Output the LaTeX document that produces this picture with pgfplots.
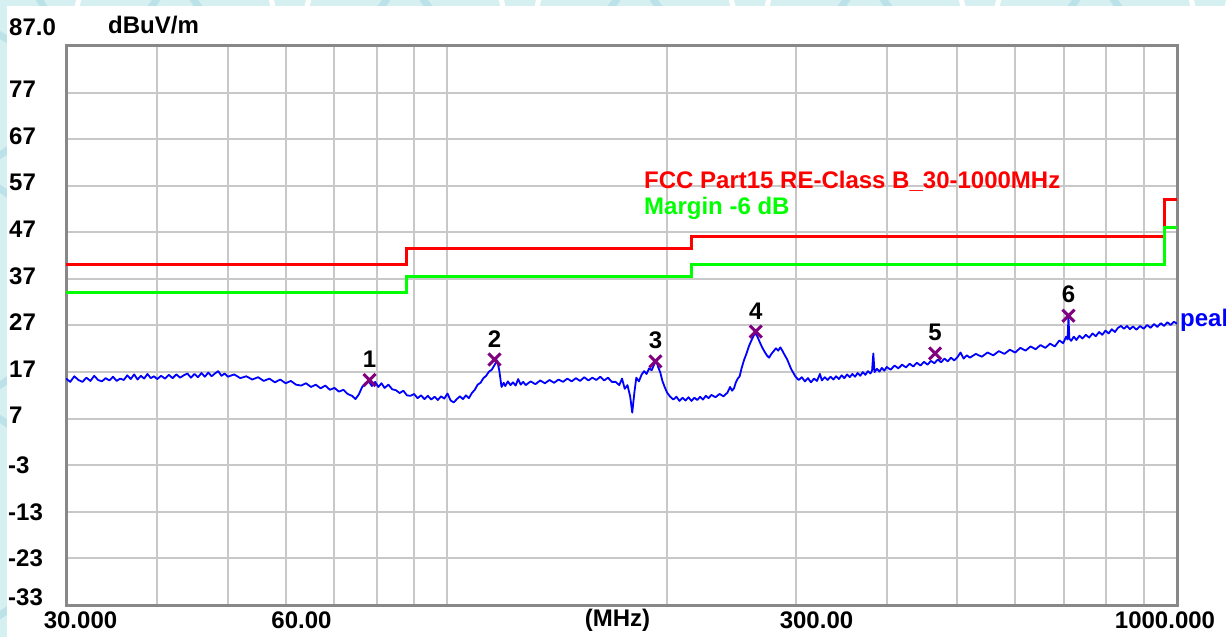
\documentclass[border=0pt]{standalone}
\usepackage{fontspec}
\setmainfont{Liberation Sans}
\usepackage{pgfplots}
\pgfplotsset{compat=1.18}
\definecolor{bgc}{RGB}{214,239,241}
\definecolor{arcc}{RGB}{186,226,232}
\definecolor{gridc}{RGB}{200,200,200}
\definecolor{borderc}{RGB}{136,136,136}
\definecolor{markc}{RGB}{128,0,128}
\newcommand{\lf}{\bfseries\fontsize{24}{26}\selectfont}
\begin{document}
\begin{tikzpicture}[x=1pt,y=1pt]
\useasboundingbox (0,0) rectangle (1226,637);
\fill[bgc] (0,0) rectangle (1226,637);
\begin{scope}
\clip (0,0) rectangle (1226,637);
\foreach \cx in {60,290,520,750,980,1210}{
  \draw[arcc, line width=7pt] (\cx,700) circle (115);
  \draw[white, line width=5pt] (\cx+115,610) circle (100);
}
\foreach \cy in {120,350,580}{
  \draw[arcc, line width=7pt] (-60,\cy) circle (115);
}
\end{scope}
\fill[white] (7,0) rectangle (1226,631);
\begin{axis}[
  at={(66pt,32pt)}, anchor=south west,
  scale only axis, width=1111pt, height=559pt,
  xmode=log, xmin=30, xmax=1000, ymin=-33, ymax=87,
  xtick={40,50,60,70,80,90,100,200,300,400,500,600,700,800,900},
  minor xtick={},
  ytick={-23,-13,-3,7,17,27,37,47,57,67,77},
  xticklabels={}, yticklabels={},
  grid=major,
  major grid style={draw=gridc, line width=2pt},
  major tick length=0pt,
  axis line style={draw=borderc, line width=3pt},
]
\addplot[red, line width=3pt] coordinates {
(30,40) (88,40) (88,43.5) (216,43.5) (216,46) (960,46) (960,54) (1000,54)};
\addplot[green, line width=3pt] coordinates {
(30,34) (88,34) (88,37.5) (216,37.5) (216,40) (960,40) (960,48) (1000,48)};
\addplot[blue, line width=1.8pt, line join=round] table {
30.0 15.6
30.4 14.9
30.8 16.1
31.2 15.3
31.6 14.9
32.0 15.8
32.4 15.1
32.8 16.2
33.2 15.3
33.6 15.0
34.0 15.7
34.4 15.2
34.8 16.0
35.2 15.1
35.6 15.6
36.0 15.3
36.4 16.3
36.8 15.5
37.2 16.5
37.6 15.4
38.0 16.2
38.4 15.6
38.8 16.6
39.2 15.7
39.6 16.1
40.0 15.5
40.5 16.2
41.0 15.6
41.5 16.4
42.0 15.7
42.5 16.5
43.0 15.8
43.5 16.3
44.0 16.7
44.5 15.8
45.0 16.6
45.5 15.9
46.0 16.8
46.5 16.0
47.0 16.9
47.5 16.1
48.0 16.7
48.5 17.2
49.0 16.2
49.5 16.7
50.0 16.0
51.0 16.5
52.0 15.7
53.0 16.1
54.0 15.4
55.0 15.9
56.0 15.1
57.0 15.6
58.0 14.8
59.0 15.4
60.0 14.6
61.0 15.1
62.0 14.3
63.0 14.1
64.0 14.6
65.0 13.8
66.0 14.3
67.0 13.5
68.0 14.1
69.0 13.2
70.0 13.6
71.0 12.8
72.0 13.2
73.0 12.3
74.0 11.9
74.8 11.2
75.6 12.2
76.4 13.8
77.2 14.6
78.0 15.0
78.8 14.0
79.6 14.9
80.4 13.8
81.2 14.6
82.0 13.6
83.0 14.3
84.0 13.3
85.0 13.1
86.0 12.5
87.0 13.0
88.0 12.0
89.0 11.9
90.0 12.3
91.0 11.4
92.0 12.0
93.0 11.2
94.0 11.9
95.0 11.1
96.0 11.7
97.0 11.0
98.0 11.8
99.0 11.3
100.0 12.4
101.0 10.9
102.0 10.5
103.0 11.2
104.0 11.8
105.0 11.2
106.0 12.0
107.0 11.4
108.0 12.5
109.0 13.2
110.0 14.3
111.0 14.7
112.0 15.7
113.0 16.2
114.0 17.1
115.0 17.5
116.0 18.5
117.0 19.5
117.8 17.2
118.6 13.8
119.4 14.7
120.0 14.0
121.0 15.0
122.0 14.2
123.0 14.8
124.0 14.1
125.0 15.5
126.0 14.3
127.0 14.9
128.0 14.2
130.0 15.0
132.0 14.4
134.0 15.2
136.0 14.6
138.0 15.3
140.0 14.7
142.0 15.4
144.0 14.9
146.0 15.6
148.0 15.0
150.0 15.7
152.0 15.1
154.0 15.9
156.0 15.2
158.0 15.8
160.0 15.3
162.0 16.0
164.0 15.2
166.0 15.8
168.0 14.9
170.0 14.9
172.0 14.2
173.5 15.6
175.0 13.4
176.5 14.2
178.0 11.8
179.2 8.3
180.4 12.6
181.5 15.8
183.0 15.0
184.5 16.4
186.0 17.2
187.5 16.6
189.0 17.8
190.5 17.4
192.0 18.6
193.3 19.5
194.5 18.0
195.8 16.9
197.0 15.2
198.5 13.8
200.0 12.6
202.0 11.7
204.0 11.1
206.0 11.7
208.0 10.8
210.0 11.5
212.0 10.9
214.0 11.6
216.0 10.8
218.0 11.5
220.0 11.0
222.0 11.7
224.0 11.1
226.0 11.9
228.0 11.4
230.0 12.1
233.0 11.6
236.0 12.3
239.0 11.8
242.0 12.6
244.0 13.8
245.5 13.0
247.0 13.5
248.5 14.8
250.0 15.6
251.5 16.1
253.0 17.8
255.0 19.6
257.0 21.0
259.0 22.6
261.0 23.8
263.0 24.9
264.6 25.3
266.0 24.6
268.0 23.4
270.0 22.3
272.0 21.4
274.0 20.6
276.0 20.1
278.0 20.9
280.0 21.5
282.0 22.1
284.0 21.6
286.0 22.3
288.0 21.5
290.0 20.6
292.0 19.8
294.0 18.7
296.0 17.6
298.0 16.8
300.0 16.0
303.0 15.3
306.0 15.9
309.0 15.0
312.0 15.7
315.0 14.8
318.0 15.6
321.0 15.1
324.0 16.6
326.0 15.2
329.0 15.9
332.0 15.3
335.0 16.0
338.0 15.4
341.0 16.1
344.0 15.5
347.0 16.3
350.0 15.7
353.0 16.5
356.0 15.9
359.0 16.6
362.0 16.0
365.0 16.8
368.0 16.2
371.0 17.0
374.0 16.4
377.0 17.2
380.0 16.7
382.0 17.3
383.5 21.0
385.0 17.0
388.0 17.7
391.0 17.1
394.0 17.9
397.0 17.3
400.0 18.1
405.0 17.5
410.0 18.4
415.0 17.8
420.0 18.6
425.0 18.0
430.0 18.8
435.0 18.2
440.0 19.0
445.0 18.4
450.0 19.2
455.0 18.6
460.0 19.4
465.0 18.9
470.0 19.7
475.0 19.1
480.0 19.9
485.0 19.3
490.0 20.1
495.0 19.5
500.0 20.2
505.0 21.2
510.0 19.9
515.0 20.6
520.0 20.1
530.0 20.9
540.0 20.3
550.0 21.2
560.0 20.6
570.0 21.5
580.0 20.9
590.0 21.8
600.0 21.2
610.0 22.2
620.0 21.6
630.0 22.5
640.0 21.9
650.0 22.8
660.0 22.2
670.0 23.1
680.0 22.5
690.0 23.8
698.0 23.2
705.0 24.6
708.0 24.0
710.0 28.8
712.0 24.2
716.0 23.7
722.0 24.6
728.0 23.9
735.0 24.8
742.0 24.2
750.0 25.0
758.0 24.4
766.0 25.3
774.0 24.7
782.0 25.6
790.0 25.0
798.0 25.9
806.0 25.3
814.0 26.2
822.0 25.6
830.0 26.5
838.0 26.9
846.0 26.3
854.0 26.9
862.0 26.2
870.0 26.8
880.0 26.1
890.0 26.9
900.0 26.3
910.0 27.1
920.0 26.5
930.0 27.3
940.0 26.7
950.0 27.5
960.0 26.9
970.0 27.7
980.0 27.1
990.0 27.8
1000.0 27.4
};
\addplot[only marks, mark=x, mark size=8.5pt, color=markc, line width=3pt,
  nodes near coords, point meta=explicit symbolic,
  nodes near coords style={black, font=\lf, anchor=south, inner sep=0pt, yshift=11pt}]
  coordinates {(78.2,15.3)[1] (116.0,19.7)[2] (192.8,19.3)[3] (264.6,25.7)[4] (466,21.0)[5] (710,29.1)[6]};
\end{axis}
% y tick labels
\tikzset{lab/.style={font=\lf, inner sep=0pt, anchor=west}}
\node[lab] at (9,610) {87.0};
\node[lab] at (9,547.4) {77};
\node[lab] at (9,501) {67};
\node[lab] at (9,454.3) {57};
\node[lab] at (9,407.7) {47};
\node[lab] at (9,361.1) {37};
\node[lab] at (9,314.5) {27};
\node[lab] at (9,268) {17};
\node[lab] at (9,221.3) {7};
\node[lab] at (8,172) {-3};
\node[lab] at (8,125) {-13};
\node[lab] at (8,79) {-23};
\node[lab] at (8,40) {-33};
\node[lab] at (108,611.5) {dBuV/m};
% x tick labels
\tikzset{xlab/.style={font=\lf, inner sep=0pt, anchor=center}}
\node[xlab] at (80.5,16.5) {30.000};
\node[xlab] at (301.5,16.5) {60.00};
\node[xlab] at (617.5,16.5) {(MHz)};
\node[xlab] at (816.5,16.5) {300.00};
\node[xlab] at (1165,16.5) {1000.000};
% legend texts
\node[font=\lf, inner sep=0pt, anchor=base west, text=red] at (644,448) {FCC Part15 RE-Class B\_30-1000MHz};
\node[font=\lf, inner sep=0pt, anchor=base west, text=green] at (644,422) {Margin -6 dB};
\node[font=\lf, inner sep=0pt, anchor=base west, text=blue] at (1180,310) {peak};
\end{tikzpicture}
\end{document}
